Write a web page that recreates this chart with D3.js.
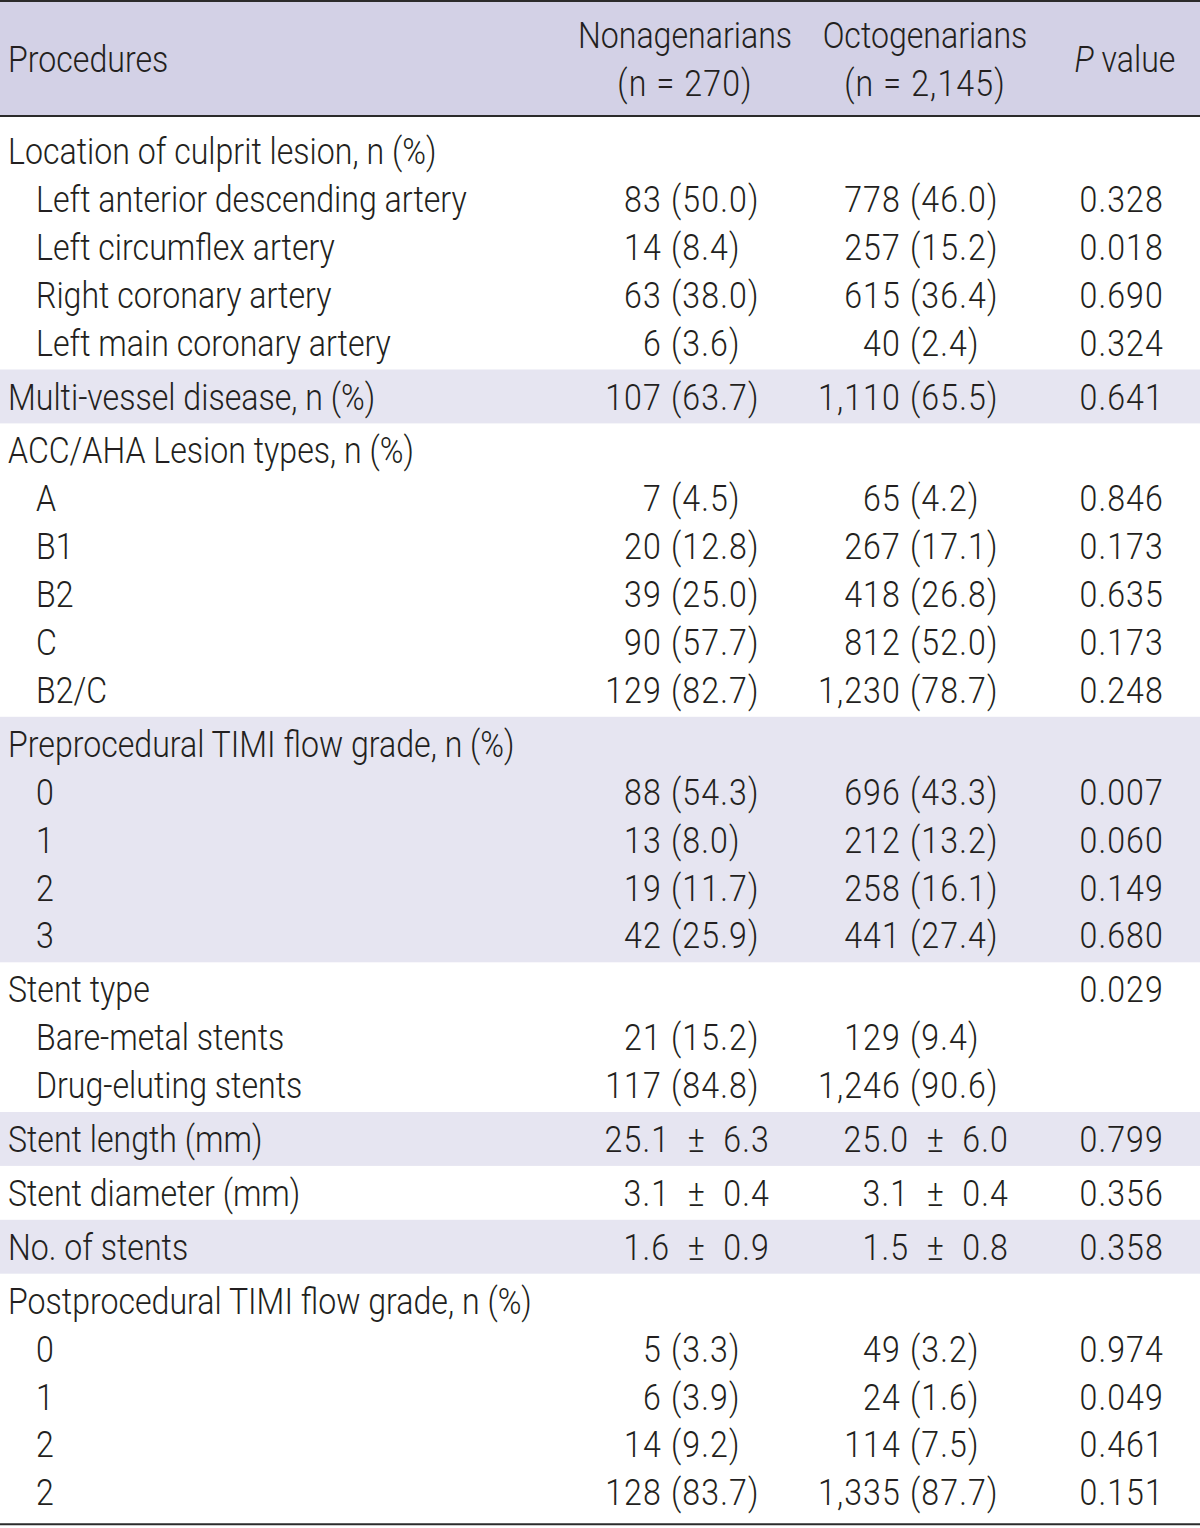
<!DOCTYPE html>
<html>
<head>
<meta charset="utf-8">
<script src="https://cdn.jsdelivr.net/npm/d3@7"></script>
<style>
  html, body { margin: 0; padding: 0; background: #fff; }
  svg { display: block; }
  text { font-family: Roboto, "Liberation Sans", sans-serif; font-weight: 300; fill: #231f20; }
</style>
</head>
<body>
<svg id="chart" width="1200" height="1528"></svg>
<script>
// ---------- DATA ----------
const headerLabels = ["Procedures", "Nonagenarians", "Octogenarians", "P value"];
const headerSubLabels = ["", "(n = 270)", "(n = 2,145)", ""];

const rowLabels = [
  "Location of culprit lesion, n (%)",
  "Left anterior descending artery",
  "Left circumflex artery",
  "Right coronary artery",
  "Left main coronary artery",
  "Multi-vessel disease, n (%)",
  "ACC/AHA Lesion types, n (%)",
  "A", "B1", "B2", "C", "B2/C",
  "Preprocedural TIMI flow grade, n (%)",
  "0", "1", "2", "3",
  "Stent type",
  "Bare-metal stents",
  "Drug-eluting stents",
  "Stent length (mm)",
  "Stent diameter (mm)",
  "No. of stents",
  "Postprocedural TIMI flow grade, n (%)",
  "0", "1", "2", "2"
];
const rowLevel = [0,1,1,1,1, 0, 0,1,1,1,1,1, 0,1,1,1,1, 0,1,1, 0, 0, 0, 0,1,1,1,1];
const sectionSizes = [5, 1, 6, 5, 3, 1, 1, 1, 5];
const sectionShaded = [false, true, false, true, false, true, false, true, false];

const nonagenarians = [
  "", "83 (50.0)", "14 (8.4)", "63 (38.0)", "6 (3.6)",
  "107 (63.7)",
  "", "7 (4.5)", "20 (12.8)", "39 (25.0)", "90 (57.7)", "129 (82.7)",
  "", "88 (54.3)", "13 (8.0)", "19 (11.7)", "42 (25.9)",
  "", "21 (15.2)", "117 (84.8)",
  "25.1 ± 6.3", "3.1 ± 0.4", "1.6 ± 0.9",
  "", "5 (3.3)", "6 (3.9)", "14 (9.2)", "128 (83.7)"
];
const octogenarians = [
  "", "778 (46.0)", "257 (15.2)", "615 (36.4)", "40 (2.4)",
  "1,110 (65.5)",
  "", "65 (4.2)", "267 (17.1)", "418 (26.8)", "812 (52.0)", "1,230 (78.7)",
  "", "696 (43.3)", "212 (13.2)", "258 (16.1)", "441 (27.4)",
  "", "129 (9.4)", "1,246 (90.6)",
  "25.0 ± 6.0", "3.1 ± 0.4", "1.5 ± 0.8",
  "", "49 (3.2)", "24 (1.6)", "114 (7.5)", "1,335 (87.7)"
];
const pValues = [
  "", "0.328", "0.018", "0.690", "0.324",
  "0.641",
  "", "0.846", "0.173", "0.635", "0.173", "0.248",
  "", "0.007", "0.060", "0.149", "0.680",
  "0.029", "", "",
  "0.799", "0.356", "0.358",
  "", "0.974", "0.049", "0.461", "0.151"
];

// ---------- LAYOUT ----------
const W = 1200;
const FS = 37;
const capOff = FS * 0.355;
const headerTop = 1, headerBottom = 116;
const rowH = 47.9, pad = 3, firstExtra = 7, lastExtra = 5;
const colors = { header: "#d3d1e6", band: "#e6e5f1", rule: "#2b2b2b" };
const refWidth = 431; // rendered width of the widest sub-label in the reference
const numSpacing = 1.3; // extra tracking for figures

const xLabel = d3.scaleOrdinal().domain([0, 1]).range([8, 36]);
const xNonaSplit = 662, xNonaRight = 770;
const xOctoSplit = 901, xOctoRight = 1009;
const xP = 1164;
const xHead = [8, 685, 925, 1125];

const svg = d3.select("#chart");

// horizontal condensing factor, measured from the font actually available
const probe = svg.append("text").attr("font-size", FS).text(rowLabels[1]);
const sx = refWidth / probe.node().getComputedTextLength();
probe.remove();

function txt(parent, x, y, s, anchor, numeric) {
  return parent.append("text")
    .attr("transform", `translate(${x},${y}) scale(${sx},1)`)
    .attr("text-anchor", anchor || "start")
    .attr("font-size", FS)
    .attr("letter-spacing", numeric ? numSpacing : null)
    .text(s);
}

// compute section bands and row centers
const rowY = [];
const bands = [];
let y = headerBottom + 1;
let r = 0;
sectionSizes.forEach((n, si) => {
  const top = y;
  y += pad + (si === 0 ? firstExtra : 0);
  for (let k = 0; k < n; k++) { rowY[r++] = y + rowH / 2; y += rowH; }
  y += pad + (si === sectionSizes.length - 1 ? lastExtra : 0);
  bands.push({ top, bottom: y, shaded: sectionShaded[si] });
});
const tableBottom = y;

// header background
svg.append("rect").attr("x", 0).attr("y", headerTop).attr("width", W)
  .attr("height", headerBottom - headerTop).attr("fill", colors.header);

// shaded bands
svg.selectAll("rect.band").data(bands.filter(b => b.shaded)).enter().append("rect")
  .attr("class", "band").attr("x", 0).attr("y", d => d.top).attr("width", W)
  .attr("height", d => d.bottom - d.top).attr("fill", colors.band);

// rules
[headerTop, headerBottom, tableBottom].forEach(v => {
  svg.append("line").attr("x1", 0).attr("x2", W).attr("y1", v).attr("y2", v)
    .attr("stroke", colors.rule).attr("stroke-width", 2);
});

// header text
const hMid = (headerTop + headerBottom) / 2;
txt(svg, xHead[0], hMid + capOff, headerLabels[0]);
[1, 2].forEach(i => {
  txt(svg, xHead[i], hMid - 24 + capOff, headerLabels[i], "middle");
  txt(svg, xHead[i], hMid + 24 + capOff, headerSubLabels[i], "middle", true);
});
const pt = txt(svg, xHead[3], hMid + capOff, "", "middle");
pt.append("tspan").attr("font-style", "italic").text("P");
pt.append("tspan").text(" value");

// body rows
const rows = svg.selectAll("g.row").data(rowLabels.map((l, i) => i)).enter().append("g").attr("class", "row");

rows.each(function(i) {
  const g = d3.select(this);
  const yy = rowY[i] + capOff;
  txt(g, xLabel(rowLevel[i]), yy, rowLabels[i]);
  [[nonagenarians, xNonaSplit, xNonaRight], [octogenarians, xOctoSplit, xOctoRight]].forEach(([arr, xs, xr]) => {
    const s = arr[i];
    if (!s) return;
    if (s.includes("±")) {
      txt(g, xr, yy, s.replace(/ ± /, "\u2002±\u2002"), "end", true);
    } else {
      const k = s.indexOf(" (");
      txt(g, xs, yy, s.slice(0, k), "end", true);
      txt(g, xs, yy, "\u00a0" + s.slice(k + 1), "start", true);
    }
  });
  if (pValues[i]) txt(g, xP, yy, pValues[i], "end", true);
});
</script>
</body>
</html>
